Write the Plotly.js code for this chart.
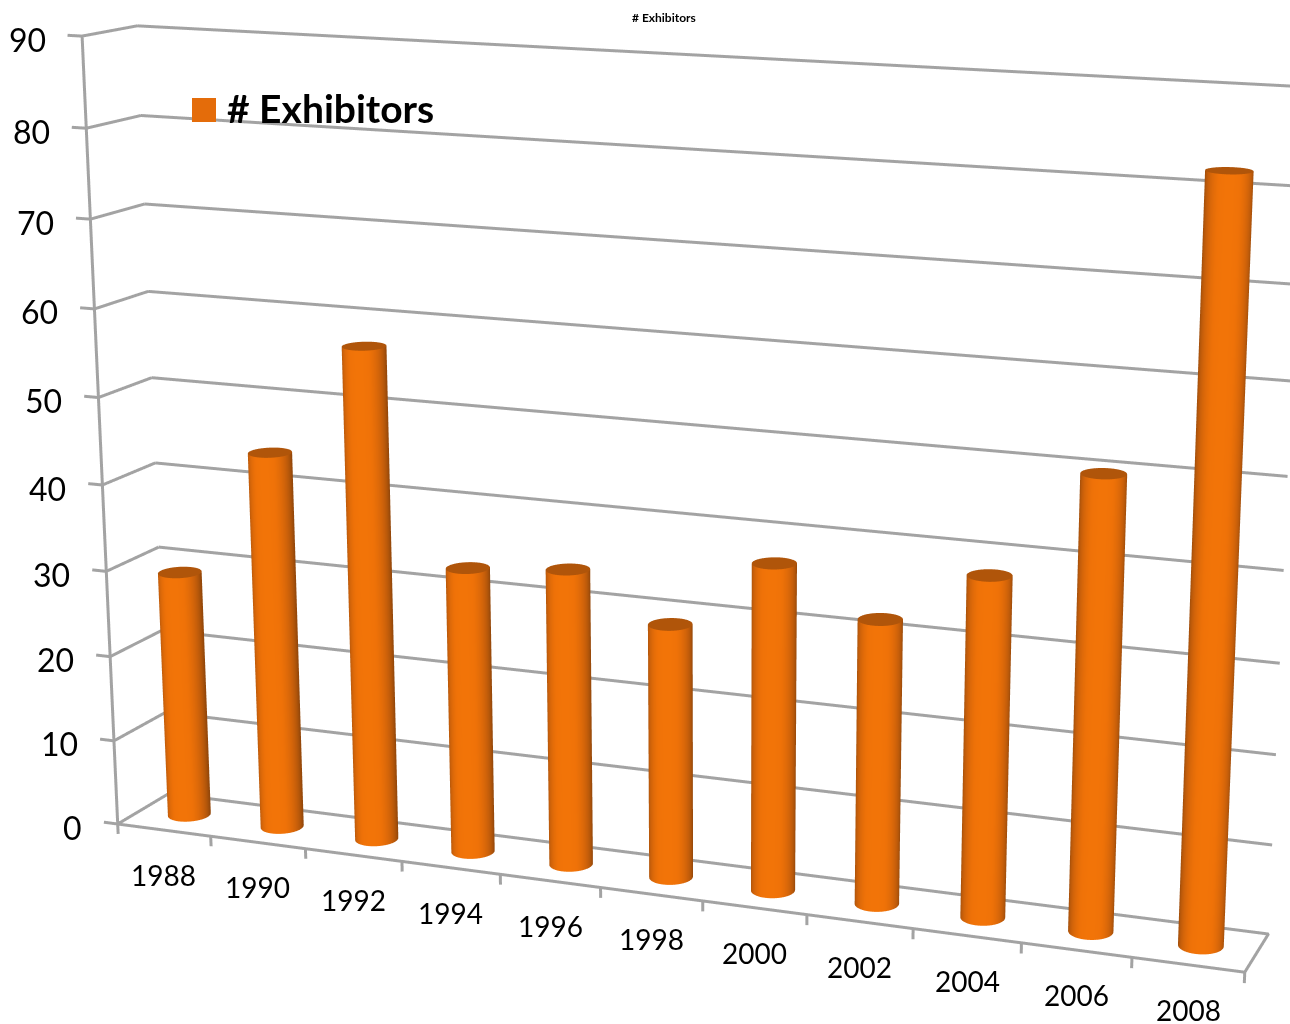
<!DOCTYPE html>
<html><head><meta charset="utf-8">
<script src="https://cdn.plot.ly/plotly-3.0.1.min.js"></script>
<style>html,body{margin:0;padding:0;width:1290px;height:1024px;overflow:hidden;background:#fff}
#wrap{position:absolute;left:0;top:0;width:1290px;height:1024px;overflow:hidden}
#c{position:absolute;left:-497px;top:-904px;width:2817px;height:2817px}</style>
</head><body><div id="wrap"><div id="c"></div></div>
<script>
const years = ['1988','1990','1992','1994','1996','1998','2000','2002','2004','2006','2008'];
const exhibitors = [29,44,57,33,34,29,37,32,38,50,82];
const valueTicks = [0,10,20,30,40,50,60,70,80,90];
const seriesName = '# Exhibitors';

const SIZE=2817, OX=497, OY=904;
const px=x=>(x+OX)/SIZE, py=y=>1-(y+OY)/SIZE;
const K=6, YAW=0.014;
const RX=0.2, RY=0.22, N=48;
const GRID='#a3a3a3', GW=6;
const colorscale=[[0,'#94480a'],[0.5,'#c75f0a'],[0.9,'#ef7208'],[1,'#f27408']];

const xLo=-0.5, xHi=years.length-0.5, xTick=-0.15, zTick=-1.2, zTop=valueTicks[valueTicks.length-1];

function cylinder(i,v){
  const X=[],Y=[],Z=[],I=[],A=[],B=[],C=[];
  for(let k=0;k<N;k++){
    const t=2*Math.PI*k/N, cx=i+RX*Math.cos(t), cy=0.5+RY*Math.sin(t);
    const front=Math.max(0,Math.cos(t+Math.PI/2-0.25));
    X.push(cx,cx);Y.push(cy,cy);Z.push(0,v);I.push(front,front);
    const n=(k+1)%N;
    A.push(2*k,2*k+1);B.push(2*k+1,2*n+1);C.push(2*n,2*n);
  }
  const base=X.length;
  for(let k=0;k<N;k++){const t=2*Math.PI*k/N;X.push(i+RX*Math.cos(t));Y.push(0.5+RY*Math.sin(t));Z.push(v);I.push(0.28);}
  X.push(i);Y.push(0.5);Z.push(v);I.push(0.28);
  for(let k=0;k<N;k++){A.push(base+N);B.push(base+k);C.push(base+(k+1)%N);}
  return {type:'mesh3d',x:X,y:Y,z:Z,i:A,j:B,k:C,intensity:I,cmin:0,cmax:1,colorscale,showscale:false,
    flatshading:false,lighting:{ambient:1,diffuse:0,specular:0,roughness:1,fresnel:0},hoverinfo:'skip',name:seriesName};
}
function lines(segs){
  const x=[],y=[],z=[];
  segs.forEach(s=>{s.forEach(p=>{x.push(p[0]);y.push(p[1]);z.push(p[2]);});x.push(null);y.push(null);z.push(null);});
  return {type:'scatter3d',mode:'lines',x,y,z,line:{color:GRID,width:GW},hoverinfo:'skip',showlegend:false,connectgaps:false};
}
const grid=[];
valueTicks.forEach(v=>{
  if(v>0) grid.push([[xLo,1,v],[xHi,1,v]]);
  if(v>0) grid.push([[xLo,0,v],[xLo,1,v]]);
  grid.push([[xLo+xTick,0,v],[xLo,0,v]]);
});
grid.push([[xLo,0,zTick],[xLo,0,zTop]]);
grid.push([[xLo,0,0],[xHi,0,0],[xHi,1,0],[xLo,1,0],[xLo,0,0]]);
for(let i=0;i<=years.length;i++) grid.push([[xLo+i,0,zTick],[xLo+i,0,0]]);

const data=[lines(grid),...exhibitors.map((v,i)=>cylinder(i,v))];
const annotations=[
 ...valueTicks.map(v=>({x:xLo,y:0,z:v,text:String(v),showarrow:false,xanchor:'right',xshift:-34,yshift:-3,font:{family:'Lato',size:32,color:'#000'}})),
 ...years.map((y,i)=>({x:i,y:0,z:0,text:y,showarrow:false,yshift:-45,font:{family:'Lato',size:28,color:'#000'}}))
];
const hidden={showbackground:false,showspikes:false,title:{text:''},showticklabels:false,zeroline:false,showline:false,showgrid:false,ticks:''};

// world size per data unit; ranges are a little wider than the frame so nothing sits on the clip boundary
const wx=.3391*K/years.length, wy=.0295*K, wz=.2315*K/zTop;
const xr=[xLo+xTick-0.05,xHi+0.05], yr=[-0.03,1.03], zr=[zTick-0.3,zTop+1];
const dx=((xr[0]+xr[1])/2-(xLo+xHi)/2)*wx, dz=((zr[0]+zr[1])/2-zTop/2)*wz;
const rot=(x,y)=>[x*Math.cos(YAW)-y*Math.sin(YAW),x*Math.sin(YAW)+y*Math.cos(YAW)];
const e=rot(.3308*K,-.8514*K), c=rot(.0642*K,.0183*K), u=rot(-.0848,.2279);

const layout={width:SIZE,height:SIZE,margin:{l:0,r:0,t:0,b:0},paper_bgcolor:'#fff',showlegend:false,
 scene:{domain:{x:[0,1],y:[0,1]},aspectmode:'manual',aspectratio:{x:wx*(xr[1]-xr[0]),y:wy*(yr[1]-yr[0]),z:wz*(zr[1]-zr[0])},
  camera:{projection:{type:'perspective'},
    eye:{x:e[0]-dx,y:e[1],z:.2221*K-dz},
    center:{x:c[0]-dx,y:c[1],z:-.0054*K-dz},
    up:{x:u[0],y:u[1],z:.970}},
  xaxis:{...hidden,range:xr},
  yaxis:{...hidden,range:yr},
  zaxis:{...hidden,range:zr},
  annotations},
 shapes:[{type:'rect',xref:'paper',yref:'paper',x0:px(192),x1:px(216),y0:py(98),y1:py(122),fillcolor:'#e46c0a',line:{width:0}}],
 annotations:[
  {xref:'paper',yref:'paper',x:px(225),y:py(108),xanchor:'left',yanchor:'middle',showarrow:false,text:'<b>'+seriesName+'</b>',font:{family:'Lato',size:39,color:'#000'}},
  {xref:'paper',yref:'paper',x:px(664),y:py(17.5),xanchor:'center',yanchor:'middle',showarrow:false,text:'<b>'+seriesName+'</b>',font:{family:'Lato',size:12,color:'#000'}}
 ]};
Plotly.newPlot('c',data,layout,{displayModeBar:false});
</script></body></html>
